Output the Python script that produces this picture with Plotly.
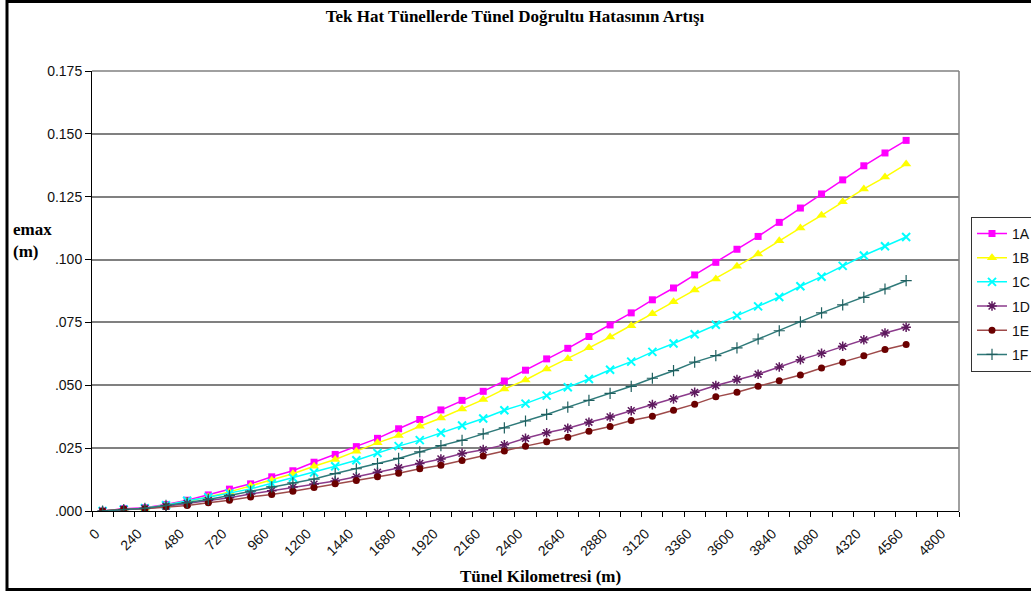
import plotly.graph_objects as go

distance_m = [0, 120, 240, 360, 480, 600, 720, 840, 960, 1080, 1200, 1320, 1440,
              1560, 1680, 1800, 1920, 2040, 2160, 2280, 2400, 2520, 2640, 2760,
              2880, 3000, 3120, 3240, 3360, 3480, 3600, 3720, 3840, 3960, 4080,
              4200, 4320, 4440, 4560]

s1A = [0.0000, 0.0009, 0.0013, 0.0026, 0.0043, 0.0064, 0.0087, 0.0108, 0.0136, 0.0160,
       0.0194, 0.0225, 0.0256, 0.0289, 0.0327, 0.0364, 0.0402, 0.0440, 0.0476, 0.0517,
       0.0560, 0.0605, 0.0647, 0.0694, 0.0740, 0.0788, 0.0840, 0.0887, 0.0939, 0.0989,
       0.1041, 0.1092, 0.1148, 0.1205, 0.1261, 0.1317, 0.1373, 0.1424, 0.1474]
s1B = [0.0000, 0.0006, 0.0011, 0.0023, 0.0039, 0.0056, 0.0076, 0.0099, 0.0122, 0.0148,
       0.0178, 0.0205, 0.0238, 0.0271, 0.0300, 0.0337, 0.0370, 0.0406, 0.0443, 0.0485,
       0.0521, 0.0565, 0.0606, 0.0649, 0.0692, 0.0737, 0.0785, 0.0832, 0.0879, 0.0923,
       0.0973, 0.1022, 0.1075, 0.1126, 0.1176, 0.1230, 0.1281, 0.1328, 0.1380]
s1C = [0.0000, 0.0006, 0.0011, 0.0023, 0.0041, 0.0055, 0.0070, 0.0088, 0.0110, 0.0132,
       0.0153, 0.0178, 0.0202, 0.0231, 0.0258, 0.0282, 0.0311, 0.0340, 0.0368, 0.0401,
       0.0427, 0.0459, 0.0492, 0.0525, 0.0562, 0.0594, 0.0633, 0.0666, 0.0703, 0.0741,
       0.0777, 0.0814, 0.0851, 0.0894, 0.0932, 0.0975, 0.1016, 0.1053, 0.1090]
s1D = [0.0000, 0.0006, 0.0010, 0.0019, 0.0030, 0.0042, 0.0053, 0.0068, 0.0081, 0.0095,
       0.0107, 0.0119, 0.0136, 0.0154, 0.0172, 0.0189, 0.0207, 0.0229, 0.0244, 0.0263,
       0.0289, 0.0311, 0.0329, 0.0353, 0.0374, 0.0399, 0.0423, 0.0446, 0.0472, 0.0499,
       0.0523, 0.0544, 0.0573, 0.0602, 0.0627, 0.0655, 0.0681, 0.0708, 0.0731]
s1E = [0.0000, 0.0008, 0.0009, 0.0017, 0.0022, 0.0033, 0.0043, 0.0056, 0.0066, 0.0079,
       0.0093, 0.0108, 0.0121, 0.0136, 0.0150, 0.0168, 0.0182, 0.0201, 0.0219, 0.0239,
       0.0258, 0.0275, 0.0293, 0.0317, 0.0336, 0.0360, 0.0377, 0.0401, 0.0425, 0.0454,
       0.0472, 0.0496, 0.0518, 0.0541, 0.0569, 0.0592, 0.0617, 0.0642, 0.0662]
s1F = [0.0000, 0.0006, 0.0011, 0.0022, 0.0033, 0.0046, 0.0062, 0.0079, 0.0096, 0.0112,
       0.0127, 0.0149, 0.0168, 0.0189, 0.0209, 0.0235, 0.0260, 0.0281, 0.0307, 0.0331,
       0.0358, 0.0384, 0.0413, 0.0440, 0.0468, 0.0496, 0.0528, 0.0558, 0.0592, 0.0618,
       0.0649, 0.0684, 0.0717, 0.0752, 0.0788, 0.0820, 0.0850, 0.0883, 0.0916]

x_tick_vals = [0, 240, 480, 720, 960, 1200, 1440, 1680, 1920, 2160, 2400, 2640, 2880,
               3120, 3360, 3600, 3840, 4080, 4320, 4560, 4800]
x_tick_text = [str(v) for v in x_tick_vals]
y_tick_vals = [0, 0.025, 0.05, 0.075, 0.1, 0.125, 0.15, 0.175]
y_tick_text = [".000", ".025", ".050", ".075", ".100", "0.125", "0.150", "0.175"]

series = [
    ("1A", s1A, "#FF00FF", "#FF00FF", "square", 7, 0),
    ("1B", s1B, "#FFFF00", "#FFFF00", "triangle-up", 9, 0),
    ("1C", s1C, "#00FFFF", "#00FFFF", "x-thin", 8, 2),
    ("1D", s1D, "#8B3A8B", "#5E1A5E", "asterisk", 8, 1.5),
    ("1E", s1E, "#9E4A4A", "#6B0000", "circle", 7, 0),
    ("1F", s1F, "#2F7A7A", "#1F5F5F", "cross-thin", 8, 1.2),
]

fig = go.Figure()
for name, vals, lc, mc, sym, size, mlw in series:
    fig.add_trace(go.Scatter(
        x=distance_m, y=vals, name=name, mode="lines+markers",
        legendgroup=name,
        line=dict(color=lc, width=1.5),
        marker=dict(symbol=sym, size=size, color=mc,
                    line=dict(color=mc, width=mlw)),
    ))

axis_font = dict(family="Liberation Sans, Arial", size=14, color="#111111")
serif = "Liberation Serif, Times New Roman"

L, R, T, B = 92, 959, 71, 511.5
PW, PH = R - L, B - T


def px(x):
    return (x - L) / PW


def py(y):
    return (B - y) / PH


fig.update_layout(
    width=1031, height=594,
    margin=dict(l=L, r=1031 - R, t=T, b=594 - B, autoexpand=False),
    paper_bgcolor="white", plot_bgcolor="white",
    showlegend=True,
    title=dict(text="<b>Tek Hat Tünellerde Tünel Doğrultu Hatasının Artışı</b>",
               font=dict(family=serif, size=17, color="#000"),
               x=515 / 1031, xref="container", xanchor="center",
               y=1 - 16 / 594, yref="container", yanchor="middle"),
    xaxis=dict(
        range=[-60, 4860], tickmode="array", tickvals=x_tick_vals, ticktext=x_tick_text,
        tickangle=-45, ticks="", showgrid=False, zeroline=False,
        showline=True, linecolor="#000000", linewidth=1, tickfont=axis_font,
        ticklabelstandoff=8, ticklabelshift=-7,
        minor=dict(tick0=-60, dtick=120, ticks="outside", ticklen=5,
                   tickcolor="#000000", showgrid=False),
    ),
    yaxis=dict(
        range=[0, 0.175], tickmode="array", tickvals=y_tick_vals, ticktext=y_tick_text,
        ticks="outside", ticklen=6, tickcolor="#000000", showgrid=True,
        gridcolor="#808080", gridwidth=1.5, zeroline=False,
        showline=True, linecolor="#000000", linewidth=1, tickfont=axis_font,
    ),
    legend=dict(
        x=px(971), xanchor="left", y=py(217), yanchor="top",
        bordercolor="#333333", borderwidth=1, bgcolor="white",
        font=dict(family="Liberation Sans, Arial", size=14, color="#111"),
        tracegroupgap=3,
    ),
    annotations=[
        dict(text="<b>emax<br>(m)</b>", xref="paper", yref="paper",
             x=px(11), y=py(241), xanchor="left", yanchor="middle",
             align="left", showarrow=False,
             font=dict(family=serif, size=17, color="#000")),
        dict(text="<b>Tünel Kilometresi (m)</b>", xref="paper", yref="paper",
             x=px(540), y=py(577), xanchor="center", yanchor="middle",
             showarrow=False, font=dict(family=serif, size=17, color="#000")),
    ],
    shapes=[
        dict(type="line", xref="paper", yref="paper", x0=0, x1=1, y0=1, y1=1,
             line=dict(color="#808080", width=1.5)),
        dict(type="line", xref="paper", yref="paper", x0=1, x1=1, y0=0, y1=1,
             line=dict(color="#808080", width=1.5)),
        dict(type="rect", xref="paper", yref="paper",
             x0=px(7), x1=px(1045), y0=py(590), y1=py(1.5),
             line=dict(color="#000000", width=3)),
    ],
)

fig.write_html("out.html", config={"displayModeBar": False},
               post_script="document.body.style.margin='0';")
